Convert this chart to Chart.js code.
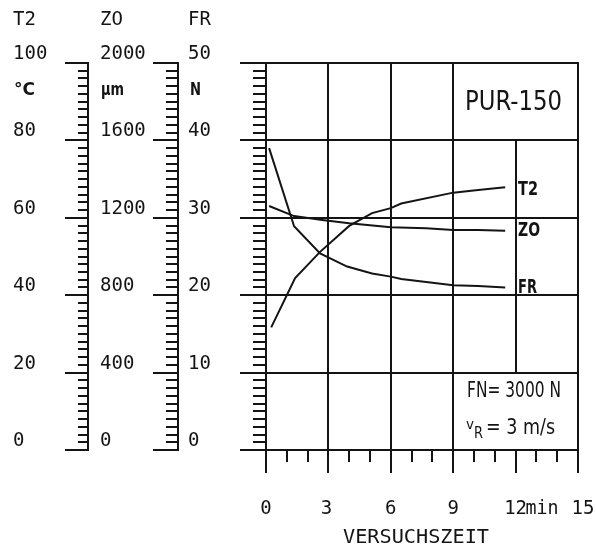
<!DOCTYPE html>
<html><head><meta charset="utf-8">
<script src="https://cdn.jsdelivr.net/npm/chart.js@4/dist/chart.umd.min.js"></script>
<style>html,body{margin:0;padding:0;background:#fff}canvas{display:block}</style>
</head><body>
<canvas id="c" width="596" height="549" style="width:596px;height:549px"></canvas>
<script>
// ---- data ----
const t2Times  = [0.25, 1.4, 2.6, 4.0, 5.1, 6.0, 6.5, 9.0, 10.2, 11.5];
const t2Values = [31.7, 44.4, 51.2, 57.9, 61.2, 62.5, 63.7, 66.5, 67.2, 67.9];   // °C
const zoTimes  = [0.15, 1.35, 2.7, 4.0, 6.0, 7.7, 9.0, 10.2, 11.5];
const zoValues = [1261, 1209, 1189, 1172, 1151, 1146, 1137, 1137, 1133];         // µm
const frTimes  = [0.15, 1.35, 2.6, 3.9, 5.1, 6.0, 6.5, 9.0, 10.2, 11.5];
const frValues = [39.0, 28.9, 25.4, 23.7, 22.8, 22.4, 22.1, 21.3, 21.2, 21.0];   // N
const timeTicks = [0, 3, 6, 9, 12, 15];
const timeLabels = ['0', '3', '6', '9', '12', '15'];
const t2Ticks = [0, 20, 40, 60, 80, 100];
const zoTicks = [0, 400, 800, 1200, 1600, 2000];
const frTicks = [0, 10, 20, 30, 40, 50];

const INK = '#141414';
const MONO = "'DejaVu Sans Mono', 'Liberation Mono', monospace";
const SANS = "'DejaVu Sans', 'Liberation Sans', sans-serif";

function pts(xs, ys) { return xs.map((t, i) => ({ x: t, y: ys[i] })); }

function seg(ctx, x1, y1, x2, y2) {
  ctx.beginPath(); ctx.moveTo(x1, y1); ctx.lineTo(x2, y2); ctx.stroke();
}
function txt(ctx, s, x, y, font, align, w) {
  ctx.font = font;
  const m = ctx.measureText(s).width;
  const k = w ? w / m : 1;
  ctx.save();
  ctx.translate(x, y);
  ctx.scale(k, 1);
  ctx.textAlign = align || 'left';
  ctx.fillText(s, 0, 0);
  ctx.restore();
}

const paper = {
  id: 'paper',
  beforeDatasetsDraw(chart) {
    const ctx = chart.ctx;
    const sx = chart.scales.x, yT = chart.scales.yT2, yF = chart.scales.yFR;
    const X = v => Math.round(sx.getPixelForValue(v));
    const YT = v => Math.round(yT.getPixelForValue(v));
    const YF = v => Math.round(yF.getPixelForValue(v));
    const L = X(0), R = X(15), T = YT(100), B = YT(0);
    ctx.save();
    ctx.strokeStyle = INK; ctx.lineWidth = 2; ctx.lineCap = 'butt';
    // horizontal grid lines (extend left of the axis)
    for (const v of t2Ticks) seg(ctx, 240, YT(v), R + 1, YT(v));
    // vertical grid lines + major ticks below
    for (const v of timeTicks) {
      if (v === 12) {
        seg(ctx, X(v), YT(80), X(v), YT(20));
        seg(ctx, X(v), B, X(v), B + 23);
      } else {
        seg(ctx, X(v), T - 1, X(v), B + 23);
      }
    }
    // minor time ticks
    for (let m = 1; m < 15; m++) if (m % 3) seg(ctx, X(m), B, X(m), B + 12);
    // minor ticks on plot left edge
    for (let v = 2; v < 100; v += 2) if (v % 20) seg(ctx, 253, YT(v), L, YT(v));
    // T2 scale
    seg(ctx, 88, T - 1, 88, B + 1);
    for (let v = 0; v <= 100; v += 2) {
      const len = v % 20 ? 10 : 23;
      seg(ctx, 88 - len, YT(v), 89, YT(v));
    }
    // ZO / FR scale
    seg(ctx, 178, T - 1, 178, B + 1);
    for (let v = 0; v <= 50; v += 1) {
      const len = v % 10 ? 12 : 25;
      seg(ctx, 178 - len, YF(v), 179, YF(v));
    }
    ctx.restore();
  },
  afterDraw(chart) {
    const ctx = chart.ctx;
    const sx = chart.scales.x, yT = chart.scales.yT2, yZ = chart.scales.yZO, yF = chart.scales.yFR;
    ctx.save();
    ctx.fillStyle = INK;
    ctx.textBaseline = 'middle';
    const f = '19px ' + MONO;
    // headers
    txt(ctx, 'T2', 13, 20, f);
    txt(ctx, 'ZO', 100, 20, f);
    txt(ctx, 'FR', 188, 20, f);
    // units
    const fu = 'bold 17px ' + SANS;
    txt(ctx, '°C', 14, 91, fu, 'left', 21);
    txt(ctx, 'µm', 101, 91, fu, 'left', 23);
    txt(ctx, 'N', 190, 91, fu, 'left', 11);
    // tick labels of the three left scales
    t2Ticks.forEach(v => txt(ctx, String(v), 13, yT.getPixelForValue(v) - 9, f));
    zoTicks.forEach(v => txt(ctx, String(v), 100, yZ.getPixelForValue(v) - 9, f));
    frTicks.forEach(v => txt(ctx, String(v), 188, yF.getPixelForValue(v) - 9, f));
    // time tick labels
    timeTicks.forEach((v, i) => {
      let x = sx.getPixelForValue(v);
      if (v === 15) x += 5;
      if (v === 3) x -= 2;
      txt(ctx, timeLabels[i], x, 509, f, 'center');
    });
    txt(ctx, 'min', 542, 509, f, 'center', 33);
    txt(ctx, 'VERSUCHSZEIT', 416, 538, f, 'center', 146);
    // in-plot labels
    txt(ctx, 'PUR-150', 465, 103, '26px ' + SANS, 'left', 97);
    const fl = 'bold 19px ' + SANS;
    txt(ctx, 'T2', 518, 190, fl, 'left', 20);
    txt(ctx, 'ZO', 518, 231, fl, 'left', 22);
    txt(ctx, 'FR', 518, 288, fl, 'left', 19);
    txt(ctx, 'FN= 3000 N', 467, 391, '22px ' + SANS, 'left', 94);
    ctx.textBaseline = 'alphabetic';
    txt(ctx, 'v', 466, 429, '14px ' + SANS, 'left', 8);
    txt(ctx, 'R', 474, 438, '15px ' + SANS, 'left', 9);
    txt(ctx, '= 3 m/s', 486, 434, '21px ' + SANS, 'left', 69);
    ctx.restore();
  }
};

const line = (data, axis) => ({
  data, yAxisID: axis, borderColor: INK, borderWidth: 2,
  pointRadius: 0, tension: 0, fill: false
});

new Chart(document.getElementById('c'), {
  type: 'line',
  data: {
    datasets: [
      line(pts(t2Times, t2Values), 'yT2'),
      line(pts(zoTimes, zoValues), 'yZO'),
      line(pts(frTimes, frValues), 'yFR')
    ]
  },
  options: {
    responsive: false,
    animation: false,
    devicePixelRatio: 1,
    layout: { padding: { left: 266, right: 18, top: 63, bottom: 99 } },
    plugins: { legend: { display: false }, tooltip: { enabled: false }, title: { display: false } },
    scales: {
      x: { type: 'linear', min: 0, max: 15, display: false },
      yT2: { type: 'linear', min: 0, max: 100, display: false },
      yZO: { type: 'linear', min: 0, max: 2000, display: false },
      yFR: { type: 'linear', min: 0, max: 50, display: false }
    }
  },
  plugins: [paper]
});
</script>
</body></html>
